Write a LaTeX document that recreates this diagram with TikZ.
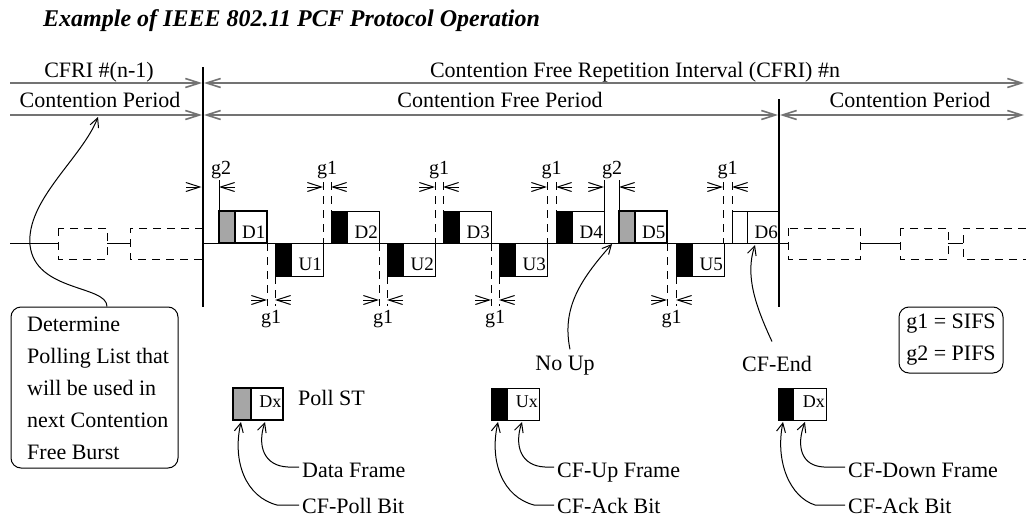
\documentclass[tikz,border=0pt]{standalone}
\usepackage{fontspec}
\setmainfont{Liberation Serif}
\usetikzlibrary{arrows.meta,calc}
\definecolor{linegray}{gray}{0.45}
\begin{document}
\begin{tikzpicture}[x=1pt,y=-1pt,
  txt/.style={font=\fontsize{22}{26}\selectfont, inner sep=0pt},
  gl/.style={font=\fontsize{20}{24}\selectfont, inner sep=0pt, anchor=base},
  fl/.style={font=\fontsize{19}{22}\selectfont, inner sep=0pt, anchor=base east},
  sl/.style={font=\fontsize{18}{21}\selectfont, inner sep=0pt, anchor=base east},
  topln/.style={draw=linegray, line width=1.6pt},
  barb/.style={-{Straight Barb[length=14pt,width=9pt]}},
  barbs/.style={{Straight Barb[length=14pt,width=9pt]}-{Straight Barb[length=14pt,width=9pt]}},
  ln/.style={line width=1pt},
  frm/.style={draw=black, line width=1pt},
  pfrm/.style={draw=black, line width=2pt},
  gapdash/.style={line width=1pt, dash pattern=on 8pt off 6pt},
  boxdash/.style={line width=1pt, dash pattern=on 8pt off 6pt},
  carrow/.style={line width=1pt, -{Straight Barb[length=9pt,width=9pt]}},
  divider/.style={line width=2.5pt},
  pollfill/.style={fill=gray!70},
]
\useasboundingbox (0,0) rectangle (1026,522);

% title
\node[anchor=base west, inner sep=0pt, font=\fontsize{24}{28}\selectfont\bfseries\itshape] (title) at (43,26) {Example of IEEE 802.11 PCF Protocol Operation};

% top labels
\node[txt, anchor=base] (cfri1) at (99,77) {CFRI \#(n-1)};
\node[txt, anchor=base] (cfrin) at (635,77) {Contention Free Repetition Interval (CFRI) \#n};
\node[txt, anchor=base] (cp1) at (100,107) {Contention Period};
\node[txt, anchor=base] (cfp) at (500,107) {Contention Free Period};
\node[txt, anchor=base] (cp2) at (910,107) {Contention Period};

% top lines
\draw[topln, barb] (10,83) -- (202,83);
\draw[topln, barbs] (204,83) -- (1024,83);
\draw[topln, barb] (10,115) -- (202,115);
\draw[topln, barbs] (204,115) -- (778,115);
\draw[topln, barbs] (780,115) -- (1024,115);

% dividers
\draw[divider] (203,67) -- (203,307);
\draw[divider] (779,99) -- (779,307);

% baseline
\draw[ln] (10,243) -- (58,243);
\draw[ln] (107,243) -- (130,243);
\draw[ln] (203,243) -- (788,243);
\draw[ln] (860,243) -- (900,243);
\draw[ln] (948,243) -- (963,243);

% contention dashed frames
\draw[boxdash] (58,228) rectangle (107,259);
\draw[boxdash] (203,228) -- (130,228) -- (130,259) -- (203,259);
\draw[boxdash] (788,228) rectangle (860,259);
\draw[boxdash] (900,228) rectangle (948,259);
\draw[boxdash] (1026,228) -- (963,228) -- (963,259) -- (1026,259);

% poll frames D1, D5
\foreach \x/\n in {219/1, 619/5} {
  \fill[pollfill] (\x,211) rectangle (\x+16,243);
  \draw[pfrm] (\x,211) rectangle (\x+48,243);
  \draw[pfrm] (\x+16,211) -- (\x+16,243);
  \node[fl] (d\n) at (\x+46.5,238) {D\n};
}
% down frames D2-D4
\foreach \x/\n in {331/2, 443/3, 556/4} {
  \filldraw[frm, fill=black] (\x,211) rectangle (\x+16,243);
  \draw[frm] (\x+16,211) rectangle (\x+48,243);
  \node[fl] (d\n) at (\x+47,238) {D\n};
}
% D6 (CF-End)
\draw[frm] (732,211) rectangle (779,243);
\draw[frm] (747,211) -- (747,243);
\node[fl] (d6) at (778,238) {D6};
% up frames
\foreach \x/\n in {275/1, 387/2, 499/3, 676/5} {
  \filldraw[frm, fill=black] (\x,243) rectangle (\x+16,276);
  \draw[frm] (\x+16,243) rectangle (\x+48,276);
  \node[fl] (u\n) at (\x+47,270) {U\n};
}

% g1 above
\foreach \a/\b in {323/331, 435/443, 547/556, 723/732} {
  \draw[gapdash] (\a,182) -- (\a,243);
  \draw[gapdash] (\b,182) -- (\b,211);
  \draw[ln, barb] (\a-16,187) -- (\a,187);
  \draw[ln, barb] (\b+16,187) -- (\b,187);
  \node[gl] (ga\a) at ({(\a+\b)/2},174) {g1};
}
% g1 below
\foreach \a/\b in {267/275, 379/387, 491/499, 667/676} {
  \draw[gapdash] (\a,243) -- (\a,306);
  \draw[gapdash] (\b,276) -- (\b,306);
  \draw[ln, barb] (\a-16,300) -- (\a,300);
  \draw[ln, barb] (\b+16,300) -- (\b,300);
  \node[gl] (gb\a) at ({(\a+\b)/2},323) {g1};
}
% g2
\draw[ln] (219,180) -- (219,211);
\draw[ln, barb] (186,187) -- (201.5,187);
\draw[ln, barb] (235,187) -- (219,187);
\node[gl] (g2a) at (221,174) {g2};
\draw[ln] (604,180) -- (604,211);
\draw[ln] (619,180) -- (619,211);
\draw[ln, barb] (588,187) -- (604,187);
\draw[ln, barb] (635,187) -- (619,187);
\node[gl] (g2b) at (612,174) {g2};

% Determine box
\node[draw, line width=1pt, rounded corners=10pt, minimum width=167pt, minimum height=161pt, inner sep=0pt] (det) at (94.5,387.5) {};
\node[txt, anchor=north west, align=left, font=\fontsize{22}{32}\selectfont] (dettxt) at (27,317) {Determine\\Polling List that\\will be used in\\next Contention\\Free Burst};
\coordinate (tipdet) at (98,117);
\draw[carrow] ([xshift=12.5pt]det.north) .. controls (107,285) and (35,292) .. (30,245) .. controls (26,200) and (82,158) .. (tipdet);

% No Up / CF-End
\node[txt, anchor=base] (noup) at (565,370) {No Up};
\coordinate (tipnoup) at (612,244);
\draw[carrow] ($(noup.north)+(5,-6)$) .. controls (562,310) and (578,282) .. (tipnoup);
\node[txt, anchor=base] (cfend) at (777,371) {CF-End};
\coordinate (tipcfend) at (755,245);
\draw[carrow] ($(cfend.north)+(-5,-14)$) .. controls (755,305) and (745,275) .. (tipcfend);

% g legend box
\node[draw, line width=1pt, rounded corners=10pt, minimum width=104pt, minimum height=66pt, inner sep=0pt, align=center, font=\fontsize{22}{32}\selectfont] (gkey) at (951,340) {g1 = SIFS\\g2 = PIFS};

% legend frames
\fill[pollfill] (233,388) rectangle (251,420);
\draw[pfrm] (233,388) rectangle (283,420);
\draw[pfrm] (251,388) -- (251,420);
\node[sl] (lgdx1) at (281.5,407) {Dx};
\node[txt, anchor=base west] (pollst) at (298,405) {Poll ST};

\filldraw[frm, fill=black] (491,388) rectangle (507,420);
\draw[frm] (507,388) rectangle (539,420);
\node[sl] (lgux) at (538,407) {Ux};

\filldraw[frm, fill=black] (778,388) rectangle (793,420);
\draw[frm] (793,388) rectangle (826,420);
\node[sl] (lgdx2) at (825,407) {Dx};

\node[txt, anchor=base west] (datafr) at (302,477) {Data Frame};
\node[txt, anchor=base west] (cfpoll) at (302,513) {CF-Poll Bit};
\node[txt, anchor=base west] (cfup) at (557,477) {CF-Up Frame};
\node[txt, anchor=base west] (cfack1) at (557,513) {CF-Ack Bit};
\node[txt, anchor=base west] (cfdown) at (848,477) {CF-Down Frame};
\node[txt, anchor=base west] (cfack2) at (848,513) {CF-Ack Bit};

\draw[carrow] ($(datafr.base west)+(-3,-10)$) -- (288,467) .. controls (264,466) and (257,446) .. (265,422);
\draw[carrow] ($(cfpoll.base west)+(-3,-8)$) -- (277,505) .. controls (246,497) and (232,462) .. (241,422);
\draw[carrow] ($(cfup.base west)+(-3,-10)$) -- (545,467) .. controls (521,466) and (514,446) .. (522,422);
\draw[carrow] ($(cfack1.base west)+(-3,-8)$) -- (534,505) .. controls (503,497) and (489,462) .. (498,422);
\draw[carrow] ($(cfdown.base west)+(-3,-10)$) -- (824,467) .. controls (801,466) and (796,446) .. (805,422);
\draw[carrow] ($(cfack2.base west)+(-3,-8)$) -- (815,505) .. controls (790,497) and (775,462) .. (783,422);
\end{tikzpicture}
\end{document}
